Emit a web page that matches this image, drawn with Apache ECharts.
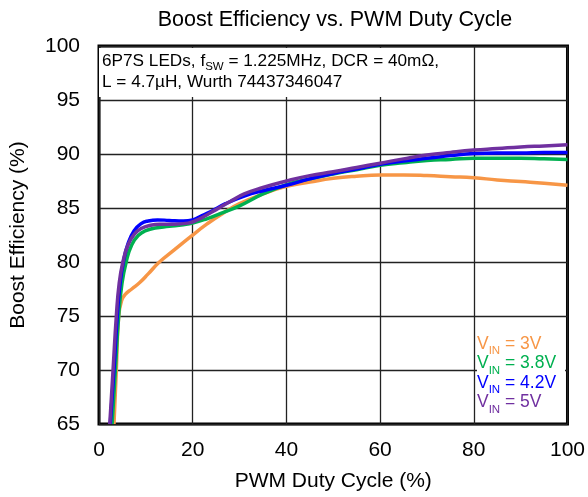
<!DOCTYPE html>
<html>
<head>
<meta charset="utf-8">
<script src="https://cdn.jsdelivr.net/npm/echarts@6/dist/echarts.min.js"></script>
<style>
  html, body { margin: 0; padding: 0; background: #fff; }
  #chart { width: 588px; height: 497px; }
</style>
</head>
<body>
<div id="chart"></div>
<script>
// duty cycle (%) and efficiency (%), one pair of arrays per VIN
const dutyV3 = [3.2, 3.7, 4.2, 4.8, 5.6, 7, 8.7, 10.5, 12.9, 16, 19.7, 23, 26.4, 30, 35, 40, 45, 50, 55, 60, 65, 70, 75, 80, 85, 90, 95, 100];
const effV3 = [65, 70, 75, 76.4, 77.0, 77.5, 78.1, 78.9, 80.0, 81.1, 82.4, 83.5, 84.5, 85.4, 86.3, 87.0, 87.4, 87.75, 87.95, 88.05, 88.05, 88.0, 87.9, 87.8, 87.6, 87.45, 87.3, 87.1];

const dutyV38 = [2.8, 3.5, 4.2, 4.9, 5.8, 7, 8.5, 10, 12, 15, 18, 20, 23, 26, 30, 35, 40, 45, 50, 55, 60, 65, 70, 75, 80, 85, 90, 95, 100];
const effV38 = [65, 70, 75, 78, 80, 81.6, 82.5, 82.9, 83.15, 83.3, 83.45, 83.6, 84.0, 84.5, 85.2, 86.3, 87.15, 87.7, 88.15, 88.55, 88.95, 89.2, 89.4, 89.5, 89.6, 89.6, 89.6, 89.55, 89.5];

const dutyV42 = [2.4, 3.2, 3.9, 4.5, 5.2, 6.2, 7.5, 9, 10.5, 12.5, 15, 18, 20, 22, 24, 27, 31, 35, 40, 45, 50, 55, 60, 65, 70, 75, 80, 85, 90, 95, 100];
const effV42 = [65, 70, 75, 78, 80, 81.7, 82.9, 83.55, 83.8, 83.9, 83.85, 83.8, 83.9, 84.3, 84.7, 85.4, 86.1, 86.6, 87.1, 87.7, 88.2, 88.6, 89.05, 89.35, 89.6, 89.85, 90.05, 90.1, 90.1, 90.15, 90.15];

const dutyV5 = [2.3, 3.0, 3.7, 4.3, 5.1, 6.2, 7.6, 9, 11, 13, 16, 19, 21, 23, 25, 28, 31, 35, 40, 45, 50, 55, 60, 65, 70, 75, 80, 85, 90, 95, 100];
const effV5 = [65, 70, 75, 78, 80, 81.6, 82.6, 83.1, 83.4, 83.5, 83.5, 83.6, 83.9, 84.35, 84.85, 85.6, 86.3, 86.9, 87.5, 88.0, 88.35, 88.75, 89.15, 89.55, 89.9, 90.15, 90.36, 90.5, 90.65, 90.75, 90.85];

const xTicks = [0, 20, 40, 60, 80, 100];
const yTicks = [65, 70, 75, 80, 85, 90, 95, 100];

const seriesNames = ['3V', '3.8V', '4.2V', '5V'];
const seriesColors = ['#f79646', '#00b050', '#0000ff', '#7030a0'];
const seriesData = [
  [dutyV3, effV3],
  [dutyV38, effV38],
  [dutyV42, effV42],
  [dutyV5, effV5],
];

const font = 'Liberation Sans, Arial, sans-serif';
const chart = echarts.init(document.getElementById('chart'));

const legendLines = seriesNames.map((name, i) => ({
  type: 'text',
  left: 477,
  top: 335 + i * 19.5,
  z: 20,
  style: {
    text: '{v|V}{s|IN}{v| = ' + name + '}',
    fill: seriesColors[i],
    rich: {
      v: { fontFamily: font, fontSize: 17.5, lineHeight: 20, fill: seriesColors[i], verticalAlign: 'bottom' },
      s: { fontFamily: font, fontSize: 11.5, lineHeight: 14, fill: seriesColors[i], verticalAlign: 'bottom', padding: [0, 0, -4, 0] },
    },
  },
}));

chart.setOption({
  animation: false,
  title: {
    text: 'Boost Efficiency vs. PWM Duty Cycle',
    left: 330,
    textAlign: 'center',
    top: 4,
    textStyle: { fontFamily: font, fontSize: 21.5, fontWeight: 'normal', color: '#000' },
  },
  grid: {
    left: 97, right: 18, top: 46, bottom: 71,
    show: true, borderColor: '#000', borderWidth: 3, backgroundColor: 'transparent',
  },
  xAxis: {
    type: 'value',
    min: xTicks[0], max: xTicks[xTicks.length - 1], interval: 20,
    name: 'PWM Duty Cycle (%)',
    nameLocation: 'middle',
    nameGap: 47,
    nameTextStyle: { fontFamily: font, fontSize: 21, color: '#000' },
    axisLine: { show: false },
    axisTick: { show: false },
    axisLabel: { fontFamily: font, fontSize: 21, color: '#000', margin: 16 },
    splitLine: { lineStyle: { color: '#222', width: 1.3 } },
  },
  yAxis: {
    type: 'value',
    min: yTicks[0], max: yTicks[yTicks.length - 1], interval: 5,
    name: 'Boost Efficiency (%)',
    nameLocation: 'middle',
    nameGap: 70,
    nameTextStyle: { fontFamily: font, fontSize: 21, color: '#000' },
    axisLine: { show: false },
    axisTick: { show: false },
    axisLabel: { fontFamily: font, fontSize: 21, color: '#000', margin: 19 },
    splitLine: { lineStyle: { color: '#222', width: 1.3 } },
  },
  graphic: [
    {
      type: 'rect', left: 99, top: 48, z: 20,
      shape: { width: 342, height: 49 },
      style: { fill: '#fff' },
    },
    {
      type: 'text', left: 102, top: 53, z: 21,
      style: {
        text: '{t|6P7S LEDs, f}{s|SW}{t| = 1.225MHz, DCR = 40mΩ,}\n{t|L = 4.7µH, Wurth 74437346047}',
        rich: {
          t: { fontFamily: font, fontSize: 17.2, lineHeight: 21, fill: '#000', verticalAlign: 'bottom' },
          s: { fontFamily: font, fontSize: 11.5, lineHeight: 14, fill: '#000', verticalAlign: 'bottom', padding: [0, 0, -3, 0] },
        },
      },
    },
    {
      type: 'rect', left: 477, top: 336, z: 19,
      shape: { width: 88, height: 84 },
      style: { fill: '#fff' },
    },
    ...legendLines,
  ],
  series: seriesData.map(([xs, ys], i) => ({
    name: 'VIN = ' + seriesNames[i],
    type: 'line',
    data: xs.map((x, k) => [x, ys[k]]),
    smooth: 0.5,
    showSymbol: false,
    lineStyle: { color: seriesColors[i], width: 3.5 },
    itemStyle: { color: seriesColors[i] },
    clip: true,
  })),
});
</script>
</body>
</html>
